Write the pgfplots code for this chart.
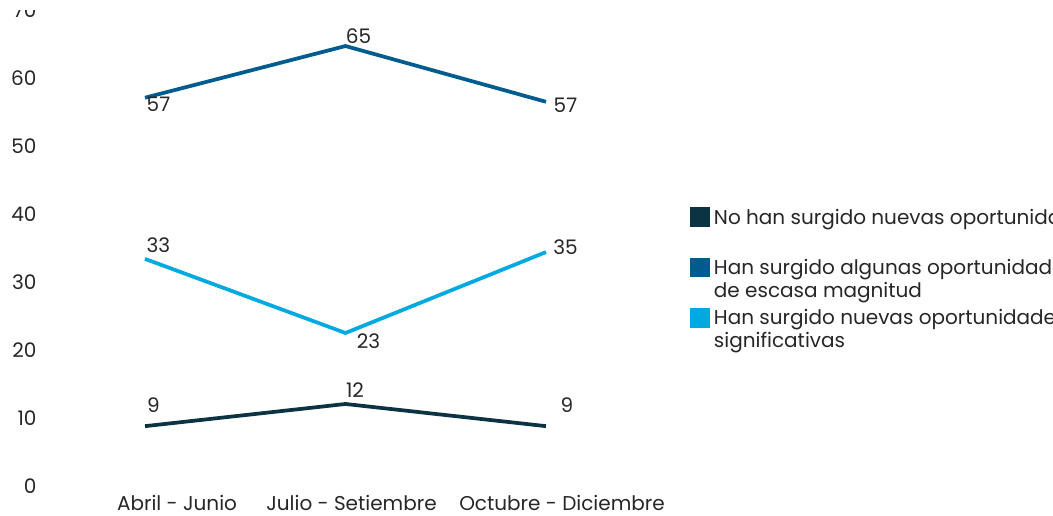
\documentclass[border=0pt]{standalone}
\usepackage{pgfplots}
\pgfplotsset{compat=1.18}
\usepackage{fontspec}
\setmainfont{Poppins}
\definecolor{cdark}{HTML}{0C3344}
\definecolor{cmid}{HTML}{005B8F}
\definecolor{clight}{HTML}{00A9DF}
\definecolor{ctext}{HTML}{262626}
\newcommand{\lf}{\fontsize{15}{17}\selectfont}
\begin{document}
\begin{tikzpicture}
\begin{axis}[
  at={(0pt,0pt)}, anchor=south west,
  scale only axis, width=451.125pt, height=357pt,
  xmin=-0.5, xmax=2.5, ymin=0, ymax=70,
  clip=false,
  axis line style={draw=none}, major tick length=0pt,
  ytick={0,10,...,70},
  xtick={0.16,1.03,2.08},
  xticklabels={Abril - Junio, Julio - Setiembre, Octubre - Diciembre},
  tick label style={font=\lf, text=ctext},
  /pgf/number format/assume math mode=true,
  yticklabel style={anchor=east, inner sep=0pt, xshift=-6pt},
  xticklabel style={anchor=north, inner sep=0pt, yshift=-7pt},
  legend style={at={(axis description cs:1.0727,0.586)}, anchor=north west,
    draw=none, fill=none, inner sep=0pt, font=\lf, text=ctext,
    nodes={inner sep=0pt}, cells={anchor=base west}, row sep=23pt, column sep=3pt},
  legend image code/.code={\fill[#1] (0pt,-0.75pt) rectangle (12pt,11.25pt);},
  every axis plot/.append style={line width=2.8pt, nodes near coords,
    point meta=explicit symbolic,
    visualization depends on={value \thisrow{dx}\as\dx},
    visualization depends on={value \thisrow{dy}\as\dy},
    nodes near coords style={anchor=center, xshift=\dx pt, yshift=\dy pt, font=\lf, text=ctext, inner sep=0pt}},
]
\addplot[cdark] table[x=x, y=y, meta=lab] {
x y lab dx dy
0 8.8 9 6.4 15.75
1 12.06 12 7.1 10.5
2 8.8 9 15.75 15.75
};
\addlegendentry{\parbox[t]{12cm}{\strut No han surgido nuevas oportunidades\\\strut}}
\addplot[cmid] table[x=x, y=y, meta=lab] {
x y lab dx dy
0 57.1 57 10.1 -5.25
1 64.7 65 9.75 7.5
2 56.5 57 14.6 -2.25
};
\addlegendentry{\parbox[t]{12cm}{\strut Han surgido algunas oportunidades\\\strut de escasa magnitud}}
\addplot[clight] table[x=x, y=y, meta=lab] {
x y lab dx dy
0 33.4 33 10.1 10.5
1 22.5 23 17.25 -6
2 34.4 35 14.6 3.75
};
\addlegendentry{\parbox[t]{12cm}{\strut Han surgido nuevas oportunidades\\\strut significativas}}
\end{axis}
\fill[white] (-40pt,357pt) rectangle (760pt,370pt);
\pgfresetboundingbox
\useasboundingbox (-33.56pt,-22.5pt) rectangle (756.19pt,364.5pt);
\end{tikzpicture}
\end{document}
